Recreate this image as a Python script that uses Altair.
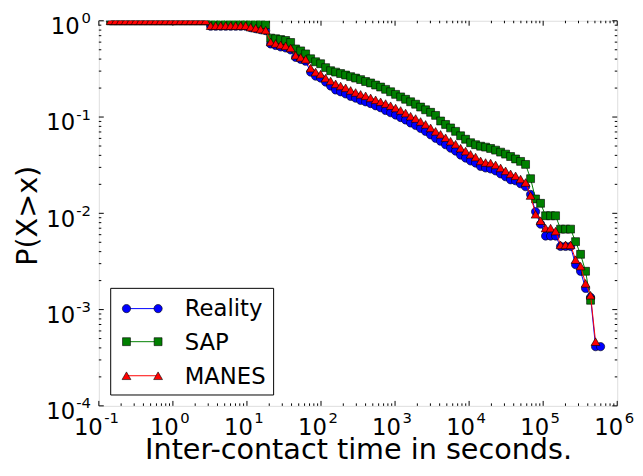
import altair as alt
import pandas as pd

# Inter-contact time (seconds), log-binned grid shared by all series
x_seconds = [
    0.1445, 0.1689, 0.1972, 0.2304, 0.2692, 0.3144, 0.3673, 0.4290, 0.5012, 0.5855,
    0.6839, 0.7989, 0.9333, 1.090, 1.274, 1.488, 1.738, 2.030, 2.371, 2.770,
    3.236, 3.780, 4.416, 5.158, 6.026, 7.039, 8.222, 9.605, 11.22, 13.11,
    15.31, 17.89, 20.89, 24.40, 28.51, 33.31, 38.90, 45.44, 53.09, 62.01,
    72.44, 84.62, 98.86, 115.5, 134.9, 157.6, 184.1, 215.0, 251.2, 293.4,
    342.8, 400.4, 467.7, 546.4, 638.3, 745.6, 871.0, 1017, 1189, 1388,
    1622, 1895, 2213, 2585, 3020, 3528, 4121, 4814, 5623, 6569,
    7674, 8964, 10470, 12230, 14290, 16690, 19500, 22780, 26610, 31080,
    36310, 42410, 49550, 57880, 67610, 78980, 92260, 107800, 125900, 147100,
    171800, 200700, 234400, 273900, 319900, 373700, 436500, 510000, 595700,
]

ones = [1.0] * 20

reality = ones + [
    0.878, 0.878, 0.878, 0.878, 0.878, 0.878, 0.878, 0.878, 0.848, 0.828,
    0.808, 0.790, 0.574, 0.554, 0.535, 0.522, 0.498, 0.417, 0.398, 0.380,
    0.293, 0.266, 0.254, 0.231, 0.210, 0.191, 0.183, 0.174, 0.164, 0.157,
    0.149, 0.144, 0.138, 0.131, 0.125, 0.117, 0.111, 0.105, 0.0988, 0.0932,
    0.0868, 0.0818, 0.0762, 0.0710, 0.0654, 0.0602, 0.0561, 0.0516, 0.0475, 0.0443,
    0.0403, 0.0375, 0.0350, 0.0333, 0.0307, 0.0296, 0.0289, 0.0276, 0.0257, 0.0240,
    0.0223, 0.0218, 0.0203, 0.0189, 0.0157, 0.0104, 0.00771, 0.00581, 0.00581, 0.00581,
    0.00453, 0.00453, 0.00453, 0.00293, 0.00250, 0.00166, 0.00134, 0.000412, 0.000412,
]

sap = ones + [
    0.988, 0.984, 0.979, 0.977, 0.972, 0.967, 0.961, 0.954, 0.947, 0.938,
    0.927, 0.910, 0.661, 0.651, 0.638, 0.624, 0.595, 0.510, 0.487, 0.453,
    0.403, 0.375, 0.358, 0.326, 0.303, 0.293, 0.283, 0.273, 0.263, 0.254,
    0.245, 0.234, 0.226, 0.215, 0.205, 0.194, 0.183, 0.172, 0.162, 0.153,
    0.144, 0.136, 0.127, 0.119, 0.112, 0.104, 0.0910, 0.0838, 0.0771, 0.0710,
    0.0639, 0.0588, 0.0541, 0.0516, 0.0498, 0.0487, 0.0472, 0.0453, 0.0432, 0.0412,
    0.0389, 0.0367, 0.0346, 0.0322, 0.0229, 0.0141, 0.0127, 0.00943, 0.00943, 0.00943,
    0.00685, 0.00685, 0.00685, 0.00508, 0.00375, 0.00250, 0.00125,
]

manes = ones + [
    0.889, 0.889, 0.889, 0.889, 0.889, 0.889, 0.889, 0.889, 0.858, 0.838,
    0.818, 0.799, 0.602, 0.581, 0.561, 0.548, 0.522, 0.438, 0.417, 0.398,
    0.322, 0.293, 0.279, 0.254, 0.237, 0.221, 0.210, 0.201, 0.189, 0.180,
    0.172, 0.166, 0.158, 0.151, 0.144, 0.138, 0.131, 0.124, 0.117, 0.110,
    0.102, 0.0965, 0.0899, 0.0838, 0.0771, 0.0710, 0.0661, 0.0609, 0.0561, 0.0522,
    0.0475, 0.0443, 0.0410, 0.0384, 0.0350, 0.0337, 0.0333, 0.0318, 0.0296, 0.0276,
    0.0257, 0.0245, 0.0227, 0.0209, 0.0153, 0.00977, 0.00838, 0.00702, 0.00702, 0.00654,
    0.00470, 0.00470, 0.00470, 0.00330, 0.00283, 0.00187, 0.00141, 0.000464,
]

series_names = ["Reality", "SAP", "MANES"]
series_values = [reality, sap, manes]
series_colors = ["#0000ff", "#008000", "#ff0000"]
series_shapes = ["circle", "square", "triangle-up"]
series_sizes = [70, 64, 80]

# tick positions and labels (10^exp)
x_major = [0.1, 1, 10, 100, 1000, 10000, 100000, 1000000]
x_exp = ["-1", "0", "1", "2", "3", "4", "5", "6"]
y_major = [0.0001, 0.001, 0.01, 0.1, 1]
y_exp = ["-4", "-3", "-2", "-1", "0"]
x_minor = [m * 10.0 ** e for e in range(-1, 6) for m in range(2, 10)]
y_minor = [m * 10.0 ** e for e in range(-4, 0) for m in range(2, 10)]

W, H = 525, 390
FONT = "DejaVu Sans"
BASE_FS, SUP_FS, TITLE_FS, LEG_FS = 23, 15, 29, 23

xscale = alt.Scale(type="log", domain=[0.1, 1e6], nice=False)
yscale = alt.Scale(type="log", domain=[1e-4, 1], nice=False)

xaxis = alt.Axis(labels=False, ticks=False, domain=False, grid=False,
                 title="Inter-contact time in seconds.", titleFont=FONT, titleFontSize=TITLE_FS,
                 titleFontWeight="normal", titleColor="black", titleBaseline="alphabetic",
                 titleX=W / 2, titleY=53)
yaxis = alt.Axis(labels=False, ticks=False, domain=False, grid=False,
                 title="P(X>x)", titleFont=FONT, titleFontSize=TITLE_FS,
                 titleFontWeight="normal", titleColor="black", titleBaseline="alphabetic",
                 titleX=-63, titleY=H / 2 + 2)

X = alt.X("x:Q", scale=xscale, axis=xaxis)
Y = alt.Y("y:Q", scale=yscale, axis=yaxis)

layers = []

# inward tick marks on all four sides
def xticks(vals, length):
    d = pd.DataFrame({"x": vals})
    b = alt.Chart(d).mark_rule(color="black", strokeWidth=1)
    return [b.encode(x=X, y=alt.value(H), y2=alt.value(H - length)),
            b.encode(x=X, y=alt.value(0), y2=alt.value(length))]

def yticks(vals, length):
    d = pd.DataFrame({"y": vals})
    b = alt.Chart(d).mark_rule(color="black", strokeWidth=1)
    return [b.encode(y=Y, x=alt.value(0), x2=alt.value(length)),
            b.encode(y=Y, x=alt.value(W), x2=alt.value(W - length))]

layers += xticks(x_major, 5) + xticks(x_minor, 2.5) + yticks(y_major, 5) + yticks(y_minor, 2.5)

# tick labels drawn as "10" plus a raised, smaller exponent (matplotlib mathtext look)
def x_labels():
    out = []
    for neg in (True, False):
        rows = [(v, e) for v, e in zip(x_major, x_exp) if e.startswith("-") == neg]
        d = pd.DataFrame({"x": [r[0] for r in rows], "exp": [r[1] for r in rows], "base": "10"})
        dx = 4 if neg else 6
        c = alt.Chart(d)
        out.append(c.mark_text(align="right", baseline="alphabetic", font=FONT, fontSize=BASE_FS,
                               color="black", dx=dx)
                   .encode(x=X, y=alt.value(H + 30), text="base:N"))
        out.append(c.mark_text(align="left", baseline="alphabetic", font=FONT, fontSize=SUP_FS,
                               color="black", dx=dx + 1.5)
                   .encode(x=X, y=alt.value(H + 17.5), text="exp:N"))
    return out

def y_labels():
    out = []
    for neg in (True, False):
        rows = [(v, e) for v, e in zip(y_major, y_exp) if e.startswith("-") == neg]
        d = pd.DataFrame({"y": [r[0] for r in rows], "exp": [r[1] for r in rows], "base": "10"})
        bx = -24 if neg else -19.5
        c = alt.Chart(d)
        out.append(c.mark_text(align="right", baseline="alphabetic", font=FONT, fontSize=BASE_FS,
                               color="black", dy=13.5)
                   .encode(y=Y, x=alt.value(bx), text="base:N"))
        out.append(c.mark_text(align="right", baseline="alphabetic", font=FONT, fontSize=SUP_FS,
                               color="black", dy=2.5)
                   .encode(y=Y, x=alt.value(-8), text="exp:N"))
    return out

layers += x_labels() + y_labels()

for name, vals, color, shape, size in zip(series_names, series_values, series_colors,
                                          series_shapes, series_sizes):
    df = pd.DataFrame({"x": x_seconds[:len(vals)], "y": vals, "series": name})
    base = alt.Chart(df)
    layers.append(base.mark_line(color=color, strokeWidth=1, clip=True).encode(x=X, y=Y))
    layers.append(base.mark_point(shape=shape, filled=True, fill=color, stroke="black",
                                  strokeWidth=0.6, size=size, opacity=1, clip=True)
                  .encode(x=X, y=Y))

# legend (matplotlib-style box, line with two markers per entry)
box = alt.Chart(pd.DataFrame({"a": [0]})).mark_rect(fill="white", stroke="black", strokeWidth=1)
layers.append(box.encode(x=alt.value(12), x2=alt.value(177), y=alt.value(271), y2=alt.value(379)))
row_y = [291.5, 325, 359.5]
for name, color, shape, size, ry in zip(series_names, series_colors, series_shapes,
                                        series_sizes, row_y):
    one = alt.Chart(pd.DataFrame({"label": [name]}))
    layers.append(one.mark_rule(color=color, strokeWidth=1)
                  .encode(x=alt.value(28), x2=alt.value(60), y=alt.value(ry)))
    for px in (28, 60):
        layers.append(one.mark_point(shape=shape, filled=True, fill=color, stroke="black",
                                     strokeWidth=0.6, size=size, opacity=1)
                      .encode(x=alt.value(px), y=alt.value(ry)))
    layers.append(one.mark_text(align="left", baseline="middle", font=FONT, fontSize=LEG_FS,
                                color="black", dy=1)
                  .encode(x=alt.value(87), y=alt.value(ry), text="label:N"))

chart = alt.layer(*layers).properties(
    width=W, height=H,
    autosize=alt.AutoSizeParams(type="none"),
    padding={"left": 92, "top": 10, "right": 18, "bottom": 60},
).configure_view(stroke="black", strokeWidth=1).configure(background="white")

chart.save("out.html", embed_options={"renderer": "svg", "actions": False})
